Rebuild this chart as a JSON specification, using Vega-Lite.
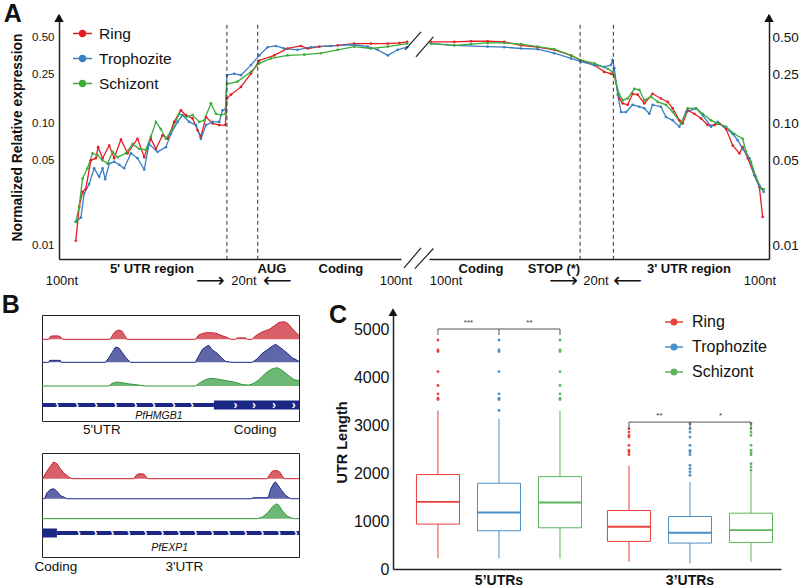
{
"$schema": "https://vega.github.io/schema/vega-lite/v6.json",
"background": "white",
"padding": {"left": 1, "top": 1, "right": 5, "bottom": 0},
"bounds": "flush",
"spacing": 300,
"config": {
  "font": "Liberation Sans",
  "view": {"stroke": null},
  "axis": {"grid": false, "domainColor": "#222", "domainWidth": 1.5, "ticks": false, "labelColor": "#111", "titleColor": "#111", "labelFont": "Liberation Sans", "titleFont": "Liberation Sans"},
  "legend": {"labelFont": "Liberation Sans", "labelColor": "#111"},
  "text": {"font": "Liberation Sans", "color": "#111"}
},
"resolve": {"scale": {"color": "independent", "stroke": "independent"}, "legend": {"color": "independent", "stroke": "independent"}},
"datasets": {
  "aLeft": [
    {"stage":"Ring","pos":1.9,"val":0.011},{"stage":"Ring","pos":4.1,"val":0.0208},{"stage":"Ring","pos":6.3,"val":0.0276},{"stage":"Ring","pos":8.4,"val":0.0292},{"stage":"Ring","pos":11.7,"val":0.05},{"stage":"Ring","pos":14.9,"val":0.052},{"stage":"Ring","pos":16.4,"val":0.064},{"stage":"Ring","pos":19.3,"val":0.052},{"stage":"Ring","pos":23.6,"val":0.066},{"stage":"Ring","pos":26.8,"val":0.052},{"stage":"Ring","pos":31.2,"val":0.074},{"stage":"Ring","pos":35.5,"val":0.057},{"stage":"Ring","pos":42,"val":0.075},{"stage":"Ring","pos":46.3,"val":0.053},{"stage":"Ring","pos":50.6,"val":0.075},{"stage":"Ring","pos":53.9,"val":0.062},{"stage":"Ring","pos":58.2,"val":0.08},{"stage":"Ring","pos":61.5,"val":0.075},{"stage":"Ring","pos":65.8,"val":0.103},{"stage":"Ring","pos":70.1,"val":0.128},{"stage":"Ring","pos":73.4,"val":0.117},{"stage":"Ring","pos":77.7,"val":0.11},{"stage":"Ring","pos":81,"val":0.088},{"stage":"Ring","pos":83.1,"val":0.078},{"stage":"Ring","pos":86.4,"val":0.113},{"stage":"Ring","pos":90.7,"val":0.1},{"stage":"Ring","pos":95,"val":0.097},{"stage":"Ring","pos":99,"val":0.097},{"stage":"Ring","pos":100,"val":0.16},{"stage":"Ring","pos":102.6,"val":0.172},{"stage":"Ring","pos":109.1,"val":0.199},{"stage":"Ring","pos":115.6,"val":0.255},{"stage":"Ring","pos":121,"val":0.327},{"stage":"Ring","pos":130.7,"val":0.36},{"stage":"Ring","pos":139.4,"val":0.41},{"stage":"Ring","pos":148,"val":0.43},{"stage":"Ring","pos":152.4,"val":0.41},{"stage":"Ring","pos":160,"val":0.425},{"stage":"Ring","pos":171.9,"val":0.435},{"stage":"Ring","pos":182.5,"val":0.45},{"stage":"Ring","pos":193.5,"val":0.45},{"stage":"Ring","pos":204.4,"val":0.45},{"stage":"Ring","pos":212,"val":0.455},{"stage":"Ring","pos":217,"val":0.464},
    {"stage":"Trophozite","pos":1.9,"val":0.0157},{"stage":"Trophozite","pos":5.2,"val":0.017},{"stage":"Trophozite","pos":7.3,"val":0.0267},{"stage":"Trophozite","pos":10.6,"val":0.032},{"stage":"Trophozite","pos":13.8,"val":0.043},{"stage":"Trophozite","pos":17.1,"val":0.0366},{"stage":"Trophozite","pos":19.3,"val":0.043},{"stage":"Trophozite","pos":21,"val":0.035},{"stage":"Trophozite","pos":23.6,"val":0.047},{"stage":"Trophozite","pos":26.8,"val":0.0486},{"stage":"Trophozite","pos":30.1,"val":0.046},{"stage":"Trophozite","pos":33.3,"val":0.043},{"stage":"Trophozite","pos":37.7,"val":0.057},{"stage":"Trophozite","pos":42,"val":0.052},{"stage":"Trophozite","pos":46.3,"val":0.042},{"stage":"Trophozite","pos":49.5,"val":0.068},{"stage":"Trophozite","pos":55,"val":0.0586},{"stage":"Trophozite","pos":60.4,"val":0.064},{"stage":"Trophozite","pos":63.6,"val":0.082},{"stage":"Trophozite","pos":68,"val":0.103},{"stage":"Trophozite","pos":71.2,"val":0.117},{"stage":"Trophozite","pos":75.5,"val":0.103},{"stage":"Trophozite","pos":79.9,"val":0.097},{"stage":"Trophozite","pos":83.1,"val":0.075},{"stage":"Trophozite","pos":86.4,"val":0.097},{"stage":"Trophozite","pos":90.7,"val":0.103},{"stage":"Trophozite","pos":95,"val":0.103},{"stage":"Trophozite","pos":97.2,"val":0.128},{"stage":"Trophozite","pos":99,"val":0.13},{"stage":"Trophozite","pos":100,"val":0.248},{"stage":"Trophozite","pos":104.7,"val":0.255},{"stage":"Trophozite","pos":109.1,"val":0.248},{"stage":"Trophozite","pos":115.6,"val":0.3},{"stage":"Trophozite","pos":121,"val":0.36},{"stage":"Trophozite","pos":126.4,"val":0.42},{"stage":"Trophozite","pos":131.8,"val":0.43},{"stage":"Trophozite","pos":137.2,"val":0.41},{"stage":"Trophozite","pos":145.9,"val":0.4},{"stage":"Trophozite","pos":154.5,"val":0.42},{"stage":"Trophozite","pos":167.5,"val":0.43},{"stage":"Trophozite","pos":182.7,"val":0.44},{"stage":"Trophozite","pos":191.4,"val":0.425},{"stage":"Trophozite","pos":197.9,"val":0.4},{"stage":"Trophozite","pos":204.4,"val":0.36},{"stage":"Trophozite","pos":210.8,"val":0.4},{"stage":"Trophozite","pos":217,"val":0.42},
    {"stage":"Schizont","pos":1.9,"val":0.0157},{"stage":"Schizont","pos":4.1,"val":0.021},{"stage":"Schizont","pos":6.3,"val":0.0355},{"stage":"Schizont","pos":9.5,"val":0.043},{"stage":"Schizont","pos":12.8,"val":0.057},{"stage":"Schizont","pos":16,"val":0.055},{"stage":"Schizont","pos":19.3,"val":0.05},{"stage":"Schizont","pos":22.5,"val":0.047},{"stage":"Schizont","pos":25.8,"val":0.0586},{"stage":"Schizont","pos":29,"val":0.053},{"stage":"Schizont","pos":34.4,"val":0.057},{"stage":"Schizont","pos":38.8,"val":0.068},{"stage":"Schizont","pos":43.1,"val":0.062},{"stage":"Schizont","pos":47.4,"val":0.061},{"stage":"Schizont","pos":50.6,"val":0.078},{"stage":"Schizont","pos":53.9,"val":0.103},{"stage":"Schizont","pos":57.1,"val":0.09},{"stage":"Schizont","pos":60.4,"val":0.075},{"stage":"Schizont","pos":64.7,"val":0.09},{"stage":"Schizont","pos":69,"val":0.12},{"stage":"Schizont","pos":73.4,"val":0.113},{"stage":"Schizont","pos":77.7,"val":0.117},{"stage":"Schizont","pos":82,"val":0.103},{"stage":"Schizont","pos":85.3,"val":0.106},{"stage":"Schizont","pos":89.6,"val":0.146},{"stage":"Schizont","pos":92.9,"val":0.12},{"stage":"Schizont","pos":96.1,"val":0.117},{"stage":"Schizont","pos":99,"val":0.12},{"stage":"Schizont","pos":100,"val":0.21},{"stage":"Schizont","pos":106.9,"val":0.22},{"stage":"Schizont","pos":115.6,"val":0.264},{"stage":"Schizont","pos":121,"val":0.31},{"stage":"Schizont","pos":128.6,"val":0.34},{"stage":"Schizont","pos":139.4,"val":0.36},{"stage":"Schizont","pos":150.2,"val":0.365},{"stage":"Schizont","pos":161,"val":0.375},{"stage":"Schizont","pos":171.9,"val":0.4},{"stage":"Schizont","pos":182.7,"val":0.425},{"stage":"Schizont","pos":193.5,"val":0.41},{"stage":"Schizont","pos":204.4,"val":0.425},{"stage":"Schizont","pos":217,"val":0.45}
  ],
  "aRight": [
    {"stage":"Ring","pos":1.3,"val":0.464},{"stage":"Ring","pos":16.7,"val":0.464},{"stage":"Ring","pos":27.8,"val":0.47},{"stage":"Ring","pos":38.8,"val":0.47},{"stage":"Ring","pos":49.8,"val":0.464},{"stage":"Ring","pos":60.9,"val":0.435},{"stage":"Ring","pos":71.9,"val":0.42},{"stage":"Ring","pos":82.9,"val":0.4},{"stage":"Ring","pos":94,"val":0.36},{"stage":"Ring","pos":100.6,"val":0.327},{"stage":"Ring","pos":109.4,"val":0.3},{"stage":"Ring","pos":116,"val":0.264},{"stage":"Ring","pos":120.4,"val":0.255},{"stage":"Ring","pos":122.6,"val":0.248},{"stage":"Ring","pos":125.9,"val":0.16},{"stage":"Ring","pos":128.2,"val":0.146},{"stage":"Ring","pos":131.5,"val":0.142},{"stage":"Ring","pos":134.8,"val":0.175},{"stage":"Ring","pos":138.1,"val":0.172},{"stage":"Ring","pos":142.5,"val":0.146},{"stage":"Ring","pos":148,"val":0.175},{"stage":"Ring","pos":153.5,"val":0.16},{"stage":"Ring","pos":158,"val":0.15},{"stage":"Ring","pos":161.3,"val":0.133},{"stage":"Ring","pos":165.7,"val":0.106},{"stage":"Ring","pos":167.9,"val":0.1},{"stage":"Ring","pos":171.2,"val":0.128},{"stage":"Ring","pos":175.6,"val":0.12},{"stage":"Ring","pos":180,"val":0.11},{"stage":"Ring","pos":184.4,"val":0.097},{"stage":"Ring","pos":188.8,"val":0.097},{"stage":"Ring","pos":192.1,"val":0.1},{"stage":"Ring","pos":196.6,"val":0.09},{"stage":"Ring","pos":201,"val":0.066},{"stage":"Ring","pos":205.4,"val":0.057},{"stage":"Ring","pos":207.6,"val":0.064},{"stage":"Ring","pos":211,"val":0.052},{"stage":"Ring","pos":215.3,"val":0.0377},{"stage":"Ring","pos":218.6,"val":0.0303},{"stage":"Ring","pos":220.8,"val":0.0172},
    {"stage":"Trophozite","pos":1.3,"val":0.45},{"stage":"Trophozite","pos":16.7,"val":0.435},{"stage":"Trophozite","pos":38.8,"val":0.425},{"stage":"Trophozite","pos":49.8,"val":0.42},{"stage":"Trophozite","pos":60.9,"val":0.41},{"stage":"Trophozite","pos":71.9,"val":0.405},{"stage":"Trophozite","pos":82.9,"val":0.375},{"stage":"Trophozite","pos":94,"val":0.34},{"stage":"Trophozite","pos":100.6,"val":0.32},{"stage":"Trophozite","pos":109.4,"val":0.3},{"stage":"Trophozite","pos":116,"val":0.29},{"stage":"Trophozite","pos":120.4,"val":0.3},{"stage":"Trophozite","pos":121.5,"val":0.33},{"stage":"Trophozite","pos":122.6,"val":0.283},{"stage":"Trophozite","pos":124.9,"val":0.172},{"stage":"Trophozite","pos":127.1,"val":0.124},{"stage":"Trophozite","pos":130.4,"val":0.124},{"stage":"Trophozite","pos":134.8,"val":0.142},{"stage":"Trophozite","pos":139.2,"val":0.137},{"stage":"Trophozite","pos":142.5,"val":0.133},{"stage":"Trophozite","pos":145.8,"val":0.12},{"stage":"Trophozite","pos":148,"val":0.142},{"stage":"Trophozite","pos":153.5,"val":0.137},{"stage":"Trophozite","pos":156.8,"val":0.113},{"stage":"Trophozite","pos":161.3,"val":0.106},{"stage":"Trophozite","pos":165.7,"val":0.094},{"stage":"Trophozite","pos":170.1,"val":0.124},{"stage":"Trophozite","pos":176.7,"val":0.133},{"stage":"Trophozite","pos":181.1,"val":0.117},{"stage":"Trophozite","pos":186.6,"val":0.094},{"stage":"Trophozite","pos":191.1,"val":0.103},{"stage":"Trophozite","pos":195.4,"val":0.094},{"stage":"Trophozite","pos":201,"val":0.082},{"stage":"Trophozite","pos":204.3,"val":0.073},{"stage":"Trophozite","pos":207.6,"val":0.062},{"stage":"Trophozite","pos":212,"val":0.052},{"stage":"Trophozite","pos":215.3,"val":0.0377},{"stage":"Trophozite","pos":218.6,"val":0.031},{"stage":"Trophozite","pos":221.5,"val":0.0276},
    {"stage":"Schizont","pos":1.3,"val":0.45},{"stage":"Schizont","pos":16.7,"val":0.435},{"stage":"Schizont","pos":27.8,"val":0.445},{"stage":"Schizont","pos":38.8,"val":0.455},{"stage":"Schizont","pos":49.8,"val":0.455},{"stage":"Schizont","pos":60.9,"val":0.445},{"stage":"Schizont","pos":71.9,"val":0.425},{"stage":"Schizont","pos":82.9,"val":0.405},{"stage":"Schizont","pos":94,"val":0.36},{"stage":"Schizont","pos":100.6,"val":0.33},{"stage":"Schizont","pos":109.4,"val":0.31},{"stage":"Schizont","pos":118.3,"val":0.28},{"stage":"Schizont","pos":121.6,"val":0.264},{"stage":"Schizont","pos":122.6,"val":0.248},{"stage":"Schizont","pos":125.9,"val":0.172},{"stage":"Schizont","pos":128.2,"val":0.155},{"stage":"Schizont","pos":131.5,"val":0.16},{"stage":"Schizont","pos":135.9,"val":0.192},{"stage":"Schizont","pos":139.2,"val":0.188},{"stage":"Schizont","pos":142.5,"val":0.155},{"stage":"Schizont","pos":146.9,"val":0.165},{"stage":"Schizont","pos":151.4,"val":0.15},{"stage":"Schizont","pos":156.8,"val":0.142},{"stage":"Schizont","pos":161.3,"val":0.124},{"stage":"Schizont","pos":166.8,"val":0.1},{"stage":"Schizont","pos":171.2,"val":0.133},{"stage":"Schizont","pos":176.7,"val":0.133},{"stage":"Schizont","pos":181.1,"val":0.12},{"stage":"Schizont","pos":186.6,"val":0.106},{"stage":"Schizont","pos":191.1,"val":0.1},{"stage":"Schizont","pos":196.6,"val":0.094},{"stage":"Schizont","pos":202.1,"val":0.082},{"stage":"Schizont","pos":207.6,"val":0.075},{"stage":"Schizont","pos":209.8,"val":0.0586},{"stage":"Schizont","pos":213.1,"val":0.0486},{"stage":"Schizont","pos":216.4,"val":0.0366},{"stage":"Schizont","pos":219.7,"val":0.0295},{"stage":"Schizont","pos":221.5,"val":0.029}
  ],
  "b1": [
    {"track":"Ring","x":0,"cov":0},{"track":"Ring","x":2.6,"cov":0},{"track":"Ring","x":3.2,"cov":0.15},{"track":"Ring","x":3.9,"cov":0.19},{"track":"Ring","x":6.5,"cov":0.19},{"track":"Ring","x":7.5,"cov":0.1},{"track":"Ring","x":8.1,"cov":0},{"track":"Ring","x":26.6,"cov":0},{"track":"Ring","x":27.5,"cov":0.25},{"track":"Ring","x":28.6,"cov":0.45},{"track":"Ring","x":29.9,"cov":0.53},{"track":"Ring","x":31.2,"cov":0.45},{"track":"Ring","x":32.2,"cov":0.2},{"track":"Ring","x":33.1,"cov":0},{"track":"Ring","x":59.7,"cov":0},{"track":"Ring","x":61,"cov":0.25},{"track":"Ring","x":63,"cov":0.35},{"track":"Ring","x":64.9,"cov":0.38},{"track":"Ring","x":67.5,"cov":0.35},{"track":"Ring","x":70.1,"cov":0.2},{"track":"Ring","x":72.1,"cov":0.1},{"track":"Ring","x":73.4,"cov":0},{"track":"Ring","x":75.3,"cov":0},{"track":"Ring","x":76,"cov":0.08},{"track":"Ring","x":79.2,"cov":0.08},{"track":"Ring","x":79.9,"cov":0},{"track":"Ring","x":81.8,"cov":0},{"track":"Ring","x":83.1,"cov":0.2},{"track":"Ring","x":85.7,"cov":0.42},{"track":"Ring","x":88.3,"cov":0.55},{"track":"Ring","x":90.3,"cov":0.75},{"track":"Ring","x":92.2,"cov":0.95},{"track":"Ring","x":94.2,"cov":1},{"track":"Ring","x":95.5,"cov":0.92},{"track":"Ring","x":97.4,"cov":0.6},{"track":"Ring","x":99.4,"cov":0.3},{"track":"Ring","x":100,"cov":0.2},
    {"track":"Trophozite","x":0,"cov":0},{"track":"Trophozite","x":2.6,"cov":0},{"track":"Trophozite","x":3,"cov":0.11},{"track":"Trophozite","x":7.1,"cov":0.11},{"track":"Trophozite","x":7.5,"cov":0},{"track":"Trophozite","x":24.7,"cov":0},{"track":"Trophozite","x":26,"cov":0.25},{"track":"Trophozite","x":27.3,"cov":0.55},{"track":"Trophozite","x":28.6,"cov":0.85},{"track":"Trophozite","x":29.9,"cov":0.8},{"track":"Trophozite","x":31.2,"cov":0.55},{"track":"Trophozite","x":32.7,"cov":0.25},{"track":"Trophozite","x":34.4,"cov":0},{"track":"Trophozite","x":59.7,"cov":0},{"track":"Trophozite","x":60.8,"cov":0.3},{"track":"Trophozite","x":62.3,"cov":0.7},{"track":"Trophozite","x":63.6,"cov":0.85},{"track":"Trophozite","x":64.9,"cov":0.95},{"track":"Trophozite","x":66.2,"cov":0.7},{"track":"Trophozite","x":68.2,"cov":0.5},{"track":"Trophozite","x":69.5,"cov":0.3},{"track":"Trophozite","x":71.4,"cov":0.05},{"track":"Trophozite","x":74,"cov":0},{"track":"Trophozite","x":81.8,"cov":0},{"track":"Trophozite","x":83.8,"cov":0.2},{"track":"Trophozite","x":85.7,"cov":0.5},{"track":"Trophozite","x":87.7,"cov":0.7},{"track":"Trophozite","x":89.6,"cov":0.9},{"track":"Trophozite","x":90.9,"cov":1},{"track":"Trophozite","x":92.9,"cov":0.8},{"track":"Trophozite","x":95.5,"cov":0.5},{"track":"Trophozite","x":97.4,"cov":0.25},{"track":"Trophozite","x":99.4,"cov":0.1},{"track":"Trophozite","x":100,"cov":0.05},
    {"track":"Schizont","x":0,"cov":0},{"track":"Schizont","x":26,"cov":0},{"track":"Schizont","x":27.3,"cov":0.15},{"track":"Schizont","x":29.2,"cov":0.22},{"track":"Schizont","x":31.2,"cov":0.18},{"track":"Schizont","x":33.8,"cov":0.12},{"track":"Schizont","x":37.7,"cov":0.05},{"track":"Schizont","x":40.3,"cov":0},{"track":"Schizont","x":59.7,"cov":0},{"track":"Schizont","x":61.7,"cov":0.2},{"track":"Schizont","x":63.6,"cov":0.35},{"track":"Schizont","x":65.6,"cov":0.42},{"track":"Schizont","x":67.5,"cov":0.4},{"track":"Schizont","x":71.4,"cov":0.3},{"track":"Schizont","x":75.3,"cov":0.2},{"track":"Schizont","x":77.9,"cov":0.08},{"track":"Schizont","x":80.5,"cov":0.05},{"track":"Schizont","x":82.5,"cov":0.15},{"track":"Schizont","x":84.4,"cov":0.35},{"track":"Schizont","x":87,"cov":0.7},{"track":"Schizont","x":89.6,"cov":0.95},{"track":"Schizont","x":91.6,"cov":1},{"track":"Schizont","x":93.5,"cov":0.85},{"track":"Schizont","x":96.1,"cov":0.55},{"track":"Schizont","x":98.1,"cov":0.35},{"track":"Schizont","x":100,"cov":0.3}
  ],
  "b2": [
    {"track":"Ring","x":0,"cov":0},{"track":"Ring","x":0.3,"cov":0},{"track":"Ring","x":1.3,"cov":0.3},{"track":"Ring","x":2.6,"cov":0.6},{"track":"Ring","x":4.5,"cov":1},{"track":"Ring","x":5.8,"cov":0.9},{"track":"Ring","x":7.1,"cov":0.6},{"track":"Ring","x":8.4,"cov":0.35},{"track":"Ring","x":10.4,"cov":0.1},{"track":"Ring","x":11.7,"cov":0},{"track":"Ring","x":35.7,"cov":0},{"track":"Ring","x":36.6,"cov":0.2},{"track":"Ring","x":37.7,"cov":0.3},{"track":"Ring","x":39.6,"cov":0.28},{"track":"Ring","x":40.5,"cov":0.1},{"track":"Ring","x":41.3,"cov":0},{"track":"Ring","x":87.7,"cov":0},{"track":"Ring","x":88.6,"cov":0.25},{"track":"Ring","x":89.6,"cov":0.45},{"track":"Ring","x":91.2,"cov":0.5},{"track":"Ring","x":92.5,"cov":0.4},{"track":"Ring","x":93.5,"cov":0.15},{"track":"Ring","x":94.4,"cov":0},{"track":"Ring","x":100,"cov":0},
    {"track":"Trophozite","x":0,"cov":0},{"track":"Trophozite","x":1,"cov":0},{"track":"Trophozite","x":1.9,"cov":0.35},{"track":"Trophozite","x":3.2,"cov":0.55},{"track":"Trophozite","x":4.5,"cov":0.6},{"track":"Trophozite","x":5.8,"cov":0.45},{"track":"Trophozite","x":7.1,"cov":0.2},{"track":"Trophozite","x":9.1,"cov":0.05},{"track":"Trophozite","x":9.7,"cov":0},{"track":"Trophozite","x":81.8,"cov":0},{"track":"Trophozite","x":82,"cov":0.06},{"track":"Trophozite","x":87.5,"cov":0.06},{"track":"Trophozite","x":88.1,"cov":0.1},{"track":"Trophozite","x":89,"cov":0.6},{"track":"Trophozite","x":90.3,"cov":0.95},{"track":"Trophozite","x":90.9,"cov":1},{"track":"Trophozite","x":91.9,"cov":0.8},{"track":"Trophozite","x":93.2,"cov":0.5},{"track":"Trophozite","x":94.8,"cov":0.2},{"track":"Trophozite","x":96.4,"cov":0.03},{"track":"Trophozite","x":97.1,"cov":0},{"track":"Trophozite","x":100,"cov":0},
    {"track":"Schizont","x":0,"cov":0},{"track":"Schizont","x":83.8,"cov":0},{"track":"Schizont","x":85.7,"cov":0.1},{"track":"Schizont","x":87.7,"cov":0.35},{"track":"Schizont","x":89.6,"cov":0.75},{"track":"Schizont","x":91.2,"cov":0.95},{"track":"Schizont","x":92.2,"cov":0.85},{"track":"Schizont","x":93.5,"cov":0.5},{"track":"Schizont","x":95.5,"cov":0.15},{"track":"Schizont","x":97.4,"cov":0.02},{"track":"Schizont","x":98.1,"cov":0},{"track":"Schizont","x":100,"cov":0}
  ],
  "boxes": [
    {"region":"5’UTRs","stage":"Ring","lower":222,"q1":935,"median":1399,"q3":1967,"upper":3303},
    {"region":"5’UTRs","stage":"Trophozite","lower":222,"q1":796,"median":1177,"q3":1787,"upper":3130},
    {"region":"5’UTRs","stage":"Schizont","lower":222,"q1":859,"median":1385,"q3":1925,"upper":3303},
    {"region":"3’UTRs","stage":"Ring","lower":152,"q1":575,"median":880,"q3":1219,"upper":2147},
    {"region":"3’UTRs","stage":"Trophozite","lower":118,"q1":540,"median":755,"q3":1094,"upper":1814},
    {"region":"3’UTRs","stage":"Schizont","lower":152,"q1":554,"median":810,"q3":1163,"upper":2022}
  ],
  "outliers": [
    {"region":"5’UTRs","stage":"Ring","value":4771},{"region":"5’UTRs","stage":"Ring","value":4564},{"region":"5’UTRs","stage":"Ring","value":4529},{"region":"5’UTRs","stage":"Ring","value":4114},{"region":"5’UTRs","stage":"Ring","value":3823},{"region":"5’UTRs","stage":"Ring","value":3650},{"region":"5’UTRs","stage":"Ring","value":3560},{"region":"5’UTRs","stage":"Ring","value":3532},
    {"region":"5’UTRs","stage":"Trophozite","value":4771},{"region":"5’UTRs","stage":"Trophozite","value":4564},{"region":"5’UTRs","stage":"Trophozite","value":4529},{"region":"5’UTRs","stage":"Trophozite","value":4114},{"region":"5’UTRs","stage":"Trophozite","value":3650},{"region":"5’UTRs","stage":"Trophozite","value":3560},{"region":"5’UTRs","stage":"Trophozite","value":3532},{"region":"5’UTRs","stage":"Trophozite","value":3303},
    {"region":"5’UTRs","stage":"Schizont","value":4771},{"region":"5’UTRs","stage":"Schizont","value":4564},{"region":"5’UTRs","stage":"Schizont","value":4529},{"region":"5’UTRs","stage":"Schizont","value":4114},{"region":"5’UTRs","stage":"Schizont","value":3823},{"region":"5’UTRs","stage":"Schizont","value":3650},{"region":"5’UTRs","stage":"Schizont","value":3560},{"region":"5’UTRs","stage":"Schizont","value":3532},
    {"region":"3’UTRs","stage":"Ring","value":2922},{"region":"3’UTRs","stage":"Ring","value":2853},{"region":"3’UTRs","stage":"Ring","value":2784},{"region":"3’UTRs","stage":"Ring","value":2749},{"region":"3’UTRs","stage":"Ring","value":2576},{"region":"3’UTRs","stage":"Ring","value":2472},{"region":"3’UTRs","stage":"Ring","value":2438},{"region":"3’UTRs","stage":"Ring","value":2382},
    {"region":"3’UTRs","stage":"Trophozite","value":3026},{"region":"3’UTRs","stage":"Trophozite","value":2922},{"region":"3’UTRs","stage":"Trophozite","value":2853},{"region":"3’UTRs","stage":"Trophozite","value":2749},{"region":"3’UTRs","stage":"Trophozite","value":2576},{"region":"3’UTRs","stage":"Trophozite","value":2472},{"region":"3’UTRs","stage":"Trophozite","value":2438},{"region":"3’UTRs","stage":"Trophozite","value":2382},{"region":"3’UTRs","stage":"Trophozite","value":2161},{"region":"3’UTRs","stage":"Trophozite","value":2091},{"region":"3’UTRs","stage":"Trophozite","value":2022},{"region":"3’UTRs","stage":"Trophozite","value":1953},
    {"region":"3’UTRs","stage":"Schizont","value":3026},{"region":"3’UTRs","stage":"Schizont","value":2922},{"region":"3’UTRs","stage":"Schizont","value":2853},{"region":"3’UTRs","stage":"Schizont","value":2784},{"region":"3’UTRs","stage":"Schizont","value":2576},{"region":"3’UTRs","stage":"Schizont","value":2472},{"region":"3’UTRs","stage":"Schizont","value":2424},{"region":"3’UTRs","stage":"Schizont","value":2382},{"region":"3’UTRs","stage":"Schizont","value":2195},{"region":"3’UTRs","stage":"Schizont","value":2126},{"region":"3’UTRs","stage":"Schizont","value":2057}
  ],
  "brackets": [
    {"region":"5’UTRs","stage":"Ring","top":5000,"foot":4875},{"region":"5’UTRs","stage":"Trophozite","top":5000,"foot":4875},{"region":"5’UTRs","stage":"Schizont","top":5000,"foot":4875},
    {"region":"3’UTRs","stage":"Ring","top":3061,"foot":2922},{"region":"3’UTRs","stage":"Trophozite","top":3061,"foot":2922},{"region":"3’UTRs","stage":"Schizont","top":3061,"foot":2922}
  ],
  "stars": [
    {"region":"5’UTRs","stage":"Ring","label":"***","y":5135},{"region":"5’UTRs","stage":"Trophozite","label":"**","y":5135},
    {"region":"3’UTRs","stage":"Ring","label":"**","y":3185},{"region":"3’UTRs","stage":"Trophozite","label":"*","y":3185}
  ]
},
"vconcat": [
  {
    "hconcat": [
      {"width": 17, "height": 10, "data": {"values": [{"a": 1}]}, "mark": {"type": "point", "opacity": 0}, "encoding": {}},
      {
        "hconcat": [
          {
            "width": 342, "height": 244,
            "layer": [
              {
                "data": {"name": "aLeft"},
                "mark": {"type": "line", "strokeWidth": 1.3, "point": {"filled": true, "size": 7}},
                "encoding": {
                  "x": {"field": "pos", "type": "quantitative", "scale": {"domain": [-9, 213], "nice": false, "zero": false}, "axis": {"labels": false, "title": null}},
                  "y": {"field": "val", "type": "quantitative", "scale": {"type": "log", "domain": [0.0078, 0.77], "nice": false}, "axis": {"values": [0.01, 0.05, 0.1, 0.25, 0.5], "format": ".2f", "title": "Normalized Relative expression", "titleFontSize": 13.8, "titleFontWeight": "bold", "labelFontSize": 11.5, "labelPadding": 5, "titlePadding": 7}},
                  "color": {"field": "stage", "type": "nominal", "scale": {"domain": ["Ring", "Trophozite", "Schizont"], "range": ["#e31e24", "#3a7fc4", "#3cab3c"]},
                    "legend": {"title": null, "orient": "none", "legendX": 13, "legendY": 8, "padding": 0, "symbolType": "M-1,0L1,0M0.3,0A0.3,0.3,0,1,0,-0.3,0A0.3,0.3,0,1,0,0.3,0M0.15,0A0.15,0.15,0,1,0,-0.15,0A0.15,0.15,0,1,0,0.15,0", "symbolSize": 361, "symbolStrokeWidth": 1.6, "labelFontSize": 15.5, "labelOffset": 6, "rowPadding": 6}}
                }
              },
              {
                "data": {"values": [{"pos": 100}, {"pos": 120}]},
                "mark": {"type": "rule", "strokeDash": [4, 3], "color": "#333", "strokeWidth": 1},
                "encoding": {"x": {"field": "pos", "type": "quantitative"}, "y": {"datum": 0.64, "type": "quantitative"}, "y2": {"datum": 0.0078}}
              },
              {
                "data": {"values": [{"x": 215, "x2": 226, "y": 0.0066, "y2": 0.0096}, {"x": 222, "x2": 234, "y": 0.0065, "y2": 0.0095}, {"x": 215.6, "x2": 226, "y": 0.4, "y2": 0.56}, {"x": 222.7, "x2": 234, "y": 0.35, "y2": 0.51}]},
                "mark": {"type": "rule", "color": "#222", "strokeWidth": 1.2},
                "encoding": {"x": {"field": "x", "type": "quantitative"}, "x2": {"field": "x2"}, "y": {"field": "y", "type": "quantitative"}, "y2": {"field": "y2"}}
              },
              {
                "data": {"values": [{"label": "5' UTR region", "pos": 51.3}, {"label": "AUG", "pos": 129.2}, {"label": "Coding", "pos": 174}]},
                "mark": {"type": "text", "fontSize": 13, "fontWeight": "bold", "baseline": "middle"},
                "encoding": {"x": {"field": "pos", "type": "quantitative"}, "y": {"datum": 0.00648, "type": "quantitative"}, "text": {"field": "label"}}
              },
              {
                "data": {"values": [{"label": "100nt", "pos": -7.1}, {"label": "20nt", "pos": 111}, {"label": "100nt", "pos": 209.7}]},
                "mark": {"type": "text", "fontSize": 13, "baseline": "middle"},
                "encoding": {"x": {"field": "pos", "type": "quantitative"}, "y": {"datum": 0.00518, "type": "quantitative"}, "text": {"field": "label"}}
              },
              {
                "data": {"values": [{"label": "⟶", "pos": 89.3}, {"label": "⟵", "pos": 132.8}]},
                "mark": {"type": "text", "fontSize": 20, "font": "DejaVu Sans", "baseline": "middle"},
                "encoding": {"x": {"field": "pos", "type": "quantitative"}, "y": {"datum": 0.00518, "type": "quantitative"}, "text": {"field": "label"}}
              },
              {
                "data": {"values": [{}]},
                "mark": {"type": "point", "shape": "triangle-up", "filled": true, "color": "#111", "size": 90, "opacity": 1},
                "encoding": {"x": {"datum": -9, "type": "quantitative"}, "y": {"datum": 0.729, "type": "quantitative"}}
              },
              {
                "data": {"values": [{}]},
                "mark": {"type": "text", "text": "A", "fontSize": 25, "fontWeight": "bold", "baseline": "middle"},
                "encoding": {"x": {"datum": -39, "type": "quantitative"}, "y": {"datum": 0.785, "type": "quantitative"}}
              }
            ]
          },
          {
            "width": 340, "height": 244,
            "layer": [
              {
                "data": {"name": "aRight"},
                "mark": {"type": "line", "strokeWidth": 1.3, "point": {"filled": true, "size": 7}},
                "encoding": {
                  "x": {"field": "pos", "type": "quantitative", "scale": {"domain": [0, 225], "nice": false, "zero": false}, "axis": {"labels": false, "title": null}},
                  "y": {"field": "val", "type": "quantitative", "scale": {"type": "log", "domain": [0.0078, 0.77], "nice": false}, "axis": {"orient": "right", "values": [0.01, 0.05, 0.1, 0.25, 0.5], "format": ".2f", "title": null, "labelFontSize": 13.5, "labelPadding": 3}},
                  "color": {"field": "stage", "type": "nominal", "scale": {"domain": ["Ring", "Trophozite", "Schizont"], "range": ["#e31e24", "#3a7fc4", "#3cab3c"]}, "legend": null}
                }
              },
              {
                "data": {"values": [{"pos": 100}, {"pos": 122}]},
                "mark": {"type": "rule", "strokeDash": [4, 3], "color": "#333", "strokeWidth": 1},
                "encoding": {"x": {"field": "pos", "type": "quantitative"}, "y": {"datum": 0.64, "type": "quantitative"}, "y2": {"datum": 0.0078}}
              },
              {
                "data": {"values": [{"label": "Coding", "pos": 34.4}, {"label": "STOP (*)", "pos": 82.7}, {"label": "3' UTR region", "pos": 172}]},
                "mark": {"type": "text", "fontSize": 13, "fontWeight": "bold", "baseline": "middle"},
                "encoding": {"x": {"field": "pos", "type": "quantitative"}, "y": {"datum": 0.00648, "type": "quantitative"}, "text": {"field": "label"}}
              },
              {
                "data": {"values": [{"label": "100nt", "pos": 11.3}, {"label": "20nt", "pos": 110.5}, {"label": "100nt", "pos": 219}]},
                "mark": {"type": "text", "fontSize": 13, "baseline": "middle"},
                "encoding": {"x": {"field": "pos", "type": "quantitative"}, "y": {"datum": 0.00518, "type": "quantitative"}, "text": {"field": "label"}}
              },
              {
                "data": {"values": [{"label": "⟶", "pos": 89}, {"label": "⟵", "pos": 131.4}]},
                "mark": {"type": "text", "fontSize": 20, "font": "DejaVu Sans", "baseline": "middle"},
                "encoding": {"x": {"field": "pos", "type": "quantitative"}, "y": {"datum": 0.00518, "type": "quantitative"}, "text": {"field": "label"}}
              },
              {
                "data": {"values": [{}]},
                "mark": {"type": "point", "shape": "triangle-up", "filled": true, "color": "#111", "size": 90, "opacity": 1},
                "encoding": {"x": {"datum": 225, "type": "quantitative"}, "y": {"datum": 0.729, "type": "quantitative"}}
              }
            ]
          }
        ],
        "spacing": 28,
        "bounds": "flush",
        "resolve": {"scale": {"color": "independent"}, "legend": {"color": "independent"}}
      }
    ],
    "spacing": 0,
    "bounds": "flush"
  },
  {
    "hconcat": [
      {
        "vconcat": [
          {
            "width": 257, "height": 106,
            "view": {"stroke": "#222", "strokeWidth": 1},
            "resolve": {"scale": {"y": "independent"}},
            "layer": [
              {"data": {"name": "b1"}, "transform": [{"filter": "datum.track == 'Ring'"}], "mark": {"type": "area", "color": "#c81e2a", "line": {"color": "#c81e2a", "strokeWidth": 1}},
               "encoding": {"x": {"field": "x", "type": "quantitative", "scale": {"domain": [0, 100], "nice": false, "zero": false}, "axis": null}, "y": {"field": "cov", "type": "quantitative", "scale": {"domain": [-4.64, 1.38], "nice": false, "zero": false}, "axis": null}}},
              {"data": {"name": "b1"}, "transform": [{"filter": "datum.track == 'Trophozite'"}], "mark": {"type": "area", "color": "#1b2785", "line": {"color": "#1b2785", "strokeWidth": 1}},
               "encoding": {"x": {"field": "x", "type": "quantitative"}, "y": {"field": "cov", "type": "quantitative", "scale": {"domain": [-3.26, 2.63], "nice": false, "zero": false}, "axis": null}}},
              {"data": {"name": "b1"}, "transform": [{"filter": "datum.track == 'Schizont'"}], "mark": {"type": "area", "color": "#2f9a3a", "line": {"color": "#2f9a3a", "strokeWidth": 1}},
               "encoding": {"x": {"field": "x", "type": "quantitative"}, "y": {"field": "cov", "type": "quantitative", "scale": {"domain": [-1.91, 3.88], "nice": false, "zero": false}, "axis": null}}},
              {"data": {"values": [{"x": 0, "x2": 66.9}]}, "mark": {"type": "rule", "color": "#1b2785", "strokeWidth": 4, "strokeCap": "butt"},
               "encoding": {"x": {"field": "x", "type": "quantitative"}, "x2": {"field": "x2"}, "y": {"datum": 16, "type": "quantitative", "scale": {"domain": [0, 106], "nice": false}, "axis": null}}},
              {"data": {"values": [{"x": 66.9, "x2": 100}]}, "mark": {"type": "rule", "color": "#1b2785", "strokeWidth": 9, "strokeCap": "butt"},
               "encoding": {"x": {"field": "x", "type": "quantitative"}, "x2": {"field": "x2"}, "y": {"datum": 16, "type": "quantitative", "scale": {"domain": [0, 106], "nice": false}, "axis": null}}},
              {"data": {"values": [{"x": 5.8}, {"x": 13.6}, {"x": 21}, {"x": 28.6}, {"x": 36.4}, {"x": 43.5}, {"x": 51.3}, {"x": 58.4}, {"x": 75.3}, {"x": 82.5}, {"x": 90.3}, {"x": 98}]},
               "mark": {"type": "text", "text": "›", "color": "white", "fontSize": 12, "fontWeight": "bold", "baseline": "middle"},
               "encoding": {"x": {"field": "x", "type": "quantitative"}, "y": {"datum": 16, "type": "quantitative", "scale": {"domain": [0, 106], "nice": false}, "axis": null}}},
              {"data": {"values": [{"label": "PfHMGB1", "x": 45.5}]}, "mark": {"type": "text", "fontSize": 10.5, "fontStyle": "italic", "baseline": "middle"},
               "encoding": {"x": {"field": "x", "type": "quantitative"}, "y": {"datum": 5, "type": "quantitative", "scale": {"domain": [0, 106], "nice": false}, "axis": null}, "text": {"field": "label"}}},
              {"data": {"values": [{"label": "5'UTR", "x": 23.3}, {"label": "Coding", "x": 82.9}]}, "mark": {"type": "text", "fontSize": 13.5, "baseline": "middle"},
               "encoding": {"x": {"field": "x", "type": "quantitative"}, "y": {"datum": -9, "type": "quantitative", "scale": {"domain": [0, 106], "nice": false}, "axis": null}, "text": {"field": "label"}}},
              {"data": {"values": [{"label": "B", "x": -12.1}]}, "mark": {"type": "text", "fontSize": 25, "fontWeight": "bold", "baseline": "middle"},
               "encoding": {"x": {"field": "x", "type": "quantitative"}, "y": {"datum": 116, "type": "quantitative", "scale": {"domain": [0, 106], "nice": false}, "axis": null}, "text": {"field": "label"}}},
              {"data": {"values": [{"label": "C", "x": 115.2}]}, "mark": {"type": "text", "fontSize": 25, "fontWeight": "bold", "baseline": "middle"},
               "encoding": {"x": {"field": "x", "type": "quantitative"}, "y": {"datum": 106, "type": "quantitative", "scale": {"domain": [0, 106], "nice": false}, "axis": null}, "text": {"field": "label"}}}
            ]
          },
          {
            "width": 257, "height": 104,
            "view": {"stroke": "#222", "strokeWidth": 1},
            "resolve": {"scale": {"y": "independent"}},
            "layer": [
              {"data": {"name": "b2"}, "transform": [{"filter": "datum.track == 'Ring'"}], "mark": {"type": "area", "color": "#c81e2a", "line": {"color": "#c81e2a", "strokeWidth": 1}},
               "encoding": {"x": {"field": "x", "type": "quantitative", "scale": {"domain": [0, 100], "nice": false, "zero": false}, "axis": null}, "y": {"field": "cov", "type": "quantitative", "scale": {"domain": [-4.69, 1.54], "nice": false, "zero": false}, "axis": null}}},
              {"data": {"name": "b2"}, "transform": [{"filter": "datum.track == 'Trophozite'"}], "mark": {"type": "area", "color": "#1b2785", "line": {"color": "#1b2785", "strokeWidth": 1}},
               "encoding": {"x": {"field": "x", "type": "quantitative"}, "y": {"field": "cov", "type": "quantitative", "scale": {"domain": [-3.49, 2.74], "nice": false, "zero": false}, "axis": null}}},
              {"data": {"name": "b2"}, "transform": [{"filter": "datum.track == 'Schizont'"}], "mark": {"type": "area", "color": "#2f9a3a", "line": {"color": "#2f9a3a", "strokeWidth": 1}},
               "encoding": {"x": {"field": "x", "type": "quantitative"}, "y": {"field": "cov", "type": "quantitative", "scale": {"domain": [-2.44, 4.18], "nice": false, "zero": false}, "axis": null}}},
              {"data": {"values": [{"x": 0, "x2": 5.8}]}, "mark": {"type": "rule", "color": "#1b2785", "strokeWidth": 9, "strokeCap": "butt"},
               "encoding": {"x": {"field": "x", "type": "quantitative"}, "x2": {"field": "x2"}, "y": {"datum": 24, "type": "quantitative", "scale": {"domain": [0, 104], "nice": false}, "axis": null}}},
              {"data": {"values": [{"x": 5.8, "x2": 100}]}, "mark": {"type": "rule", "color": "#1b2785", "strokeWidth": 4, "strokeCap": "butt"},
               "encoding": {"x": {"field": "x", "type": "quantitative"}, "x2": {"field": "x2"}, "y": {"datum": 24, "type": "quantitative", "scale": {"domain": [0, 104], "nice": false}, "axis": null}}},
              {"data": {"values": [{"x": 14.3}, {"x": 20.8}, {"x": 27.3}, {"x": 33.8}, {"x": 40.3}, {"x": 46.8}, {"x": 53.2}, {"x": 59.7}, {"x": 66.2}, {"x": 72.7}, {"x": 79.2}, {"x": 85.7}, {"x": 92.2}, {"x": 98.7}]},
               "mark": {"type": "text", "text": "›", "color": "white", "fontSize": 12, "fontWeight": "bold", "baseline": "middle"},
               "encoding": {"x": {"field": "x", "type": "quantitative"}, "y": {"datum": 24, "type": "quantitative", "scale": {"domain": [0, 104], "nice": false}, "axis": null}}},
              {"data": {"values": [{"label": "PfEXP1", "x": 49.7}]}, "mark": {"type": "text", "fontSize": 10.5, "fontStyle": "italic", "baseline": "middle"},
               "encoding": {"x": {"field": "x", "type": "quantitative"}, "y": {"datum": 9, "type": "quantitative", "scale": {"domain": [0, 104], "nice": false}, "axis": null}, "text": {"field": "label"}}},
              {"data": {"values": [{"label": "Coding", "x": 5.4}, {"label": "3'UTR", "x": 55.4}]}, "mark": {"type": "text", "fontSize": 13.5, "baseline": "middle"},
               "encoding": {"x": {"field": "x", "type": "quantitative"}, "y": {"datum": -10, "type": "quantitative", "scale": {"domain": [0, 104], "nice": false}, "axis": null}, "text": {"field": "label"}}}
            ]
          }
        ],
        "spacing": 32,
        "bounds": "flush"
      },
      {
        "width": 388, "height": 254,
        "resolve": {"scale": {"x": "independent"}},
        "layer": [
          {
            "layer": [
              {
                "data": {"name": "boxes"},
                "mark": {"type": "rule", "strokeWidth": 1},
                "encoding": {
                  "x": {"field": "region", "type": "nominal", "sort": ["5’UTRs", "3’UTRs"], "scale": {"domain": ["5’UTRs", "3’UTRs"], "paddingInner": 0.0576, "paddingOuter": 0.0445, "align": 0.94}, "axis": {"title": null, "labelFontSize": 14, "labelFontWeight": "bold", "labelPadding": 4, "labelAngle": 0}},
                  "xOffset": {"field": "stage", "type": "nominal", "scale": {"domain": ["Ring", "Trophozite", "Schizont"], "paddingInner": 0.295, "paddingOuter": 0.1225}},
                  "y": {"field": "lower", "type": "quantitative", "scale": {"domain": [0, 5292], "nice": false}, "axis": {"values": [0, 1000, 2000, 3000, 4000, 5000], "format": "d", "title": "UTR Length", "titleFontSize": 14.5, "titleFontWeight": "bold", "titlePadding": 4, "labelFontSize": 16, "labelPadding": 4}},
                  "y2": {"field": "upper"},
                  "stroke": {"field": "stage", "type": "nominal", "scale": {"domain": ["Ring", "Trophozite", "Schizont"], "range": ["#e8403c", "#4a90c8", "#5cb55c"]},
                    "legend": {"title": null, "orient": "none", "legendX": 271, "legendY": -3, "padding": 0, "symbolType": "M-1,0L1,0M0.3,0A0.3,0.3,0,1,0,-0.3,0A0.3,0.3,0,1,0,0.3,0M0.15,0A0.15,0.15,0,1,0,-0.15,0A0.15,0.15,0,1,0,0.15,0", "symbolSize": 324, "symbolStrokeWidth": 1.6, "labelFontSize": 16, "labelOffset": 8, "rowPadding": 7}}
                }
              },
              {
                "data": {"name": "boxes"},
                "mark": {"type": "bar", "fill": "white", "strokeWidth": 1},
                "encoding": {
                  "x": {"field": "region", "type": "nominal"},
                  "xOffset": {"field": "stage", "type": "nominal"},
                  "y": {"field": "q1", "type": "quantitative"},
                  "y2": {"field": "q3"},
                  "stroke": {"field": "stage", "type": "nominal"}
                }
              },
              {
                "data": {"name": "boxes"},
                "mark": {"type": "tick", "size": 43, "thickness": 1.8, "opacity": 1},
                "encoding": {
                  "x": {"field": "region", "type": "nominal"},
                  "xOffset": {"field": "stage", "type": "nominal"},
                  "y": {"field": "median", "type": "quantitative"},
                  "color": {"field": "stage", "type": "nominal", "scale": {"domain": ["Ring", "Trophozite", "Schizont"], "range": ["#e8403c", "#4a90c8", "#5cb55c"]}, "legend": null}
                }
              },
              {
                "data": {"name": "outliers"},
                "mark": {"type": "circle", "size": 8, "opacity": 1},
                "encoding": {
                  "x": {"field": "region", "type": "nominal"},
                  "xOffset": {"field": "stage", "type": "nominal"},
                  "y": {"field": "value", "type": "quantitative"},
                  "color": {"field": "stage", "type": "nominal", "legend": null}
                }
              },
              {
                "data": {"name": "brackets"},
                "mark": {"type": "line", "color": "#555", "strokeWidth": 1},
                "encoding": {
                  "x": {"field": "region", "type": "nominal"},
                  "xOffset": {"field": "stage", "type": "nominal"},
                  "y": {"field": "top", "type": "quantitative"},
                  "detail": {"field": "region"}
                }
              },
              {
                "data": {"name": "brackets"},
                "mark": {"type": "rule", "color": "#555", "strokeWidth": 1},
                "encoding": {
                  "x": {"field": "region", "type": "nominal"},
                  "xOffset": {"field": "stage", "type": "nominal"},
                  "y": {"field": "top", "type": "quantitative"},
                  "y2": {"field": "foot"}
                }
              },
              {
                "data": {"name": "stars"},
                "mark": {"type": "text", "fontSize": 8, "dx": 30.5, "baseline": "middle", "color": "#333"},
                "encoding": {
                  "x": {"field": "region", "type": "nominal"},
                  "xOffset": {"field": "stage", "type": "nominal"},
                  "y": {"field": "y", "type": "quantitative"},
                  "text": {"field": "label"}
                }
              }
            ]
          },
          {
            "data": {"values": [{}]},
            "mark": {"type": "point", "shape": "triangle-up", "filled": true, "color": "#111", "size": 80, "opacity": 1},
            "encoding": {"x": {"datum": 0, "type": "quantitative", "scale": {"domain": [0, 1]}, "axis": null}, "y": {"datum": 5354, "type": "quantitative"}}
          }
        ]
      }
    ],
    "spacing": 351,
    "bounds": "flush",
    "resolve": {"scale": {"color": "independent", "stroke": "independent"}, "legend": {"color": "independent", "stroke": "independent"}}
  }
]
}
